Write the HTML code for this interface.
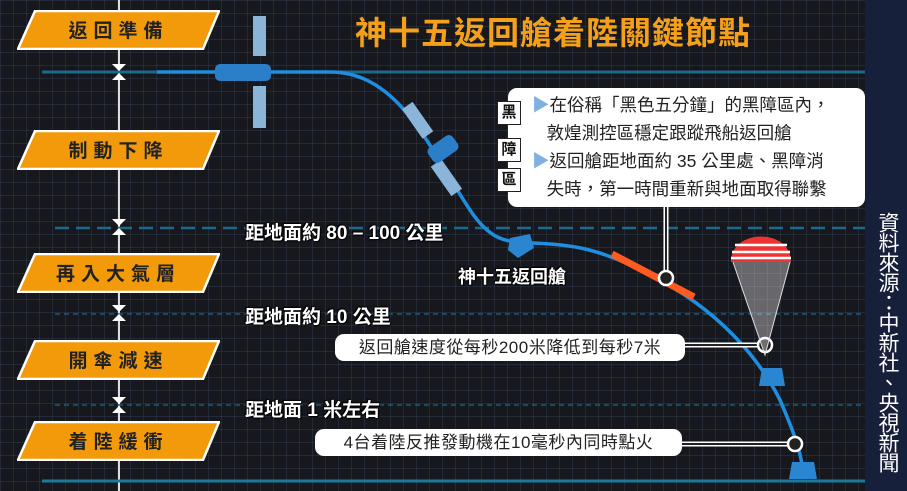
<!DOCTYPE html>
<html><head><meta charset="utf-8"><style>
body{margin:0;width:907px;height:491px;overflow:hidden;background:#17181e;font-family:"Liberation Sans","Noto Sans CJK TC",sans-serif;}
#c{position:relative;width:907px;height:491px;background-color:#17181e;
background-image:linear-gradient(rgba(80,100,140,.22) 1px,transparent 1px),linear-gradient(90deg,rgba(80,100,140,.22) 1px,transparent 1px);
background-size:13px 13px;}
.ab{position:absolute;}
.tag{position:absolute;left:17px;width:203px;height:38px;}
.tag svg{position:absolute;left:0;top:0}
.tag span{position:absolute;left:0;width:203px;text-align:center;top:6px;font-size:19px;font-weight:bold;letter-spacing:6px;color:#222;}
.lbl{position:absolute;left:245px;font-size:19px;font-weight:bold;color:#fff;text-shadow:0 0 2px #000,0 0 2px #000,1px 1px 0 #000,-1px -1px 0 #000;}
.pill{position:absolute;background:#fff;border-radius:9px;font-size:17px;color:#222;text-align:center;line-height:27px;letter-spacing:.5px}
.hz{position:absolute;width:22px;height:22px;background:#fff;border:1px solid #222;font-size:15px;font-weight:bold;text-align:center;line-height:22px;color:#111;}
</style></head><body><div id="c">
<div class="ab" style="left:865px;top:0;width:42px;height:491px;background:#16203a"></div>
<svg class="ab" style="left:0;top:0" width="907" height="491">
<line x1="119" y1="0" x2="119" y2="491" stroke="#ddd" stroke-width="2"/>
<line x1="42" y1="72" x2="865" y2="72" stroke="#1b6a8c" stroke-width="3"/>
<line x1="55" y1="228" x2="865" y2="228" stroke="#1b6a8c" stroke-width="2.5" stroke-dasharray="14,7"/>
<line x1="55" y1="314" x2="865" y2="314" stroke="#1b5a78" stroke-width="1.5" stroke-dasharray="5,4"/>
<line x1="55" y1="405" x2="865" y2="405" stroke="#1b5a78" stroke-width="1.5" stroke-dasharray="5,4"/>
<line x1="42" y1="481" x2="865" y2="481" stroke="#1b7a9c" stroke-width="3"/>
<g fill="#fff"><path d="M112 64h14l-7 7z M112 80h14l-7-7z"/><path d="M112 219h14l-7 7z M112 235h14l-7-7z"/><path d="M112 305h14l-7 7z M112 321h14l-7-7z"/><path d="M112 397h14l-7 7z M112 413h14l-7-7z"/></g>
<path d="M157 72 L330 72 C400 72 430 150 470 210 C490 240 505 242 530 243 C570 244 600 248 650 275 C720 310 760 360 780 400 C795 435 800 450 803 470" fill="none" stroke="#1e8fe0" stroke-width="3.5"/>
<line x1="612" y1="254" x2="694" y2="297" stroke="#ff5a1f" stroke-width="7"/>
<line x1="666" y1="200" x2="666" y2="278" stroke="#fff" stroke-width="5"/><line x1="666" y1="200" x2="666" y2="278" stroke="#222" stroke-width="2"/>
<circle cx="666" cy="278" r="7" fill="#222" stroke="#fff" stroke-width="2.5"/>
<line x1="680" y1="345" x2="765" y2="345" stroke="#fff" stroke-width="5"/><line x1="680" y1="345" x2="765" y2="345" stroke="#222" stroke-width="2"/>
<circle cx="765" cy="345" r="7" fill="#222" stroke="#fff" stroke-width="2.5"/>
<line x1="680" y1="444" x2="795" y2="444" stroke="#fff" stroke-width="5"/><line x1="680" y1="444" x2="795" y2="444" stroke="#222" stroke-width="2"/>
<circle cx="795" cy="444" r="7" fill="#222" stroke="#fff" stroke-width="2.5"/>
<rect x="253" y="16" width="13" height="40" fill="#8ab4d8"/><rect x="253" y="86" width="13" height="42" fill="#8ab4d8"/>
<rect x="215" y="64" width="56" height="17" rx="5" fill="#2a7fc8"/>
<rect x="411" y="102" width="13" height="36" fill="#8ab4d8" transform="rotate(-35 418 120)"/>
<rect x="440" y="160" width="13" height="36" fill="#8ab4d8" transform="rotate(-35 446 178)"/>
<rect x="428" y="140" width="30" height="18" rx="5" fill="#2a7fc8" transform="rotate(-35 443 149)"/>
<path d="M510 238 L530 234 L534 248 L518 258 L508 250z" fill="#2a86d0"/>
<path d="M733 262 L765 355 L790 262" fill="rgba(255,255,255,.35)" stroke="#ddd" stroke-width="1"/>
<path d="M731 262 C731 228 791 228 791 262z" fill="#e33"/>
<path d="M735 245 H787 M732 252 H790 M731 258 H791" stroke="#fff" stroke-width="2.5"/>
<path d="M762 368 h20 l3 18 h-26z" fill="#2a86d0"/>
<path d="M792 462 h22 l3 17 h-28z" fill="#2a86d0"/>
</svg>
<div class="tag" style="top:10px"><svg width="203" height="40"><polygon points="18,1 202,1 186,39 1,39" fill="#f29a0a" stroke="#fff" stroke-width="2.5"/></svg><span>返回準備</span></div>
<div class="tag" style="top:130px"><svg width="203" height="40"><polygon points="18,1 202,1 186,39 1,39" fill="#f29a0a" stroke="#fff" stroke-width="2.5"/></svg><span>制動下降</span></div>
<div class="tag" style="top:253px"><svg width="203" height="40"><polygon points="18,1 202,1 186,39 1,39" fill="#f29a0a" stroke="#fff" stroke-width="2.5"/></svg><span>再入大氣層</span></div>
<div class="tag" style="top:340px"><svg width="203" height="40"><polygon points="18,1 202,1 186,39 1,39" fill="#f29a0a" stroke="#fff" stroke-width="2.5"/></svg><span>開傘減速</span></div>
<div class="tag" style="top:421px"><svg width="203" height="40"><polygon points="18,1 202,1 186,39 1,39" fill="#f29a0a" stroke="#fff" stroke-width="2.5"/></svg><span>着陸緩衝</span></div>
<div class="ab" style="left:355px;top:8px;font-size:32px;font-weight:bold;color:#f5a01a;letter-spacing:1px">神十五返回艙着陸關鍵節點</div>
<div class="ab" style="left:508px;top:88px;width:357px;height:119px;background:#fff;border-radius:9px"></div>
<div class="ab" style="left:532px;top:91px;font-size:17.5px;line-height:28px;color:#222"><span style="color:#7fb2e0">▶</span>在俗稱「黑色五分鐘」的黑障區內，<br>&nbsp;&nbsp;&nbsp;敦煌測控區穩定跟蹤飛船返回艙<br><span style="color:#7fb2e0">▶</span>返回艙距地面約 35 公里處、黑障消<br>&nbsp;&nbsp;&nbsp;失時，第一時間重新與地面取得聯繫</div>
<div class="hz" style="left:497px;top:101px">黑</div>
<div class="hz" style="left:497px;top:138px">障</div>
<div class="hz" style="left:497px;top:168px">區</div>
<div class="lbl" style="top:218px">距地面約 80 – 100 公里</div>
<div class="lbl" style="top:302px">距地面約 10 公里</div>
<div class="lbl" style="top:395px">距地面 1 米左右</div>
<div class="lbl" style="left:458px;top:263px;font-size:18px">神十五返回艙</div>
<div class="pill" style="left:335px;top:334px;width:350px">返回艙速度從每秒200米降低到每秒7米</div>
<div class="pill" style="left:315px;top:429px;width:367px">4台着陸反推發動機在10毫秒內同時點火</div>
<div class="ab" style="left:874px;top:212px;writing-mode:vertical-rl;font-size:21px;line-height:26px;letter-spacing:-1px;color:#fff">資料來源：中新社、央視新聞</div>
</div></body></html>
